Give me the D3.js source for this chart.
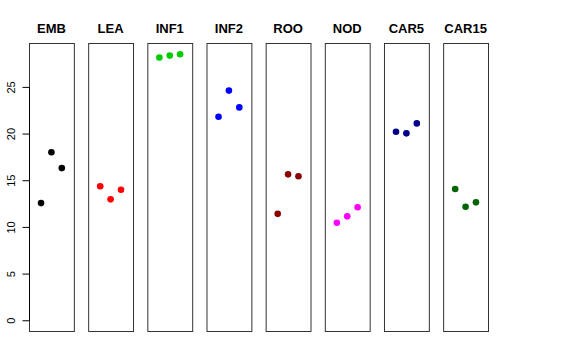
<!DOCTYPE html>
<html>
<body style="margin:0">
<style>
body { background: #fff; }
text { font-family: "Liberation Sans", Arial, sans-serif; }
</style>
<div id="chart"></div>
<script src="https://d3js.org/d3.v7.min.js"></script>
<script>

var groups = ["EMB", "LEA", "INF1", "INF2", "ROO", "NOD", "CAR5", "CAR15"];
var colors = ["#000000", "#ff0000", "#00cd00", "#0000ff", "#8b0000", "#ff00ff", "#00008b", "#006400"];
var values = [
  [12.55, 18.0, 16.3],
  [14.35, 12.95, 13.98],
  [28.15, 28.35, 28.5],
  [21.8, 24.6, 22.8],
  [11.4, 15.63, 15.42],
  [10.45, 11.13, 12.1],
  [20.19, 20.02, 21.09],
  [14.06, 12.16, 12.63]
];
var yTicks = [0, 5, 10, 15, 20, 25];

var width = 576, height = 360;

var svg = d3.select("#chart")
    .append("svg")
    .attr("width", width)
    .attr("height", height);

var y = d3.scaleLinear()
    .domain([-1.15, 29.7])
    .range([331, 43]);

var panel = d3.scaleBand()
    .domain(groups)
    .range([29, 488])
    .paddingInner(14.3 / 59.15)
    .paddingOuter(0);

// within-panel x: replicate 1..3 on 0..4 with R's 4% padding
var x = d3.scaleLinear()
    .domain([-0.16, 4.16])
    .range([0, panel.bandwidth()]);

var panels = svg.selectAll(".panel")
    .data(groups)
    .enter()
    .append("g")
    .attr("class", "panel")
    .attr("transform", function(d) { return "translate(" + panel(d) + ",0)"; });

panels.append("rect")
    .attr("x", 0.5)
    .attr("y", 43.5)
    .attr("width", panel.bandwidth())
    .attr("height", 331 - 43)
    .attr("fill", "none")
    .attr("stroke", "#333")
    .attr("stroke-width", 1);

panels.append("text")
    .attr("x", panel.bandwidth() / 2)
    .attr("y", 33)
    .attr("text-anchor", "middle")
    .attr("font-size", "13px")
    .attr("font-weight", "bold")
    .text(function(d) { return d; });

panels.each(function(d, i) {
  d3.select(this).selectAll("circle")
      .data(values[i])
      .enter()
      .append("circle")
      .attr("cx", function(v, j) { return x(j + 1); })
      .attr("cy", function(v) { return y(v); })
      .attr("r", 3.3)
      .attr("fill", colors[i]);
});

var axis = svg.append("g")
    .attr("transform", "translate(29.5,0)")
    .call(d3.axisLeft(y).tickValues(yTicks).tickSize(7).tickPadding(4));

axis.select(".domain").attr("d", "M0," + y(0) + "V" + y(25)).attr("stroke", "#000");
axis.selectAll(".tick line").attr("stroke", "#000");
axis.selectAll(".tick text")
    .attr("font-size", "11px")
    .attr("font-family", "Liberation Sans, Arial, sans-serif")
    .attr("fill", "#000")
    .attr("transform", "rotate(-90)")
    .attr("text-anchor", "middle")
    .attr("x", 0)
    .attr("dy", 0)
    .attr("y", -15);

</script>
</body>
</html>
